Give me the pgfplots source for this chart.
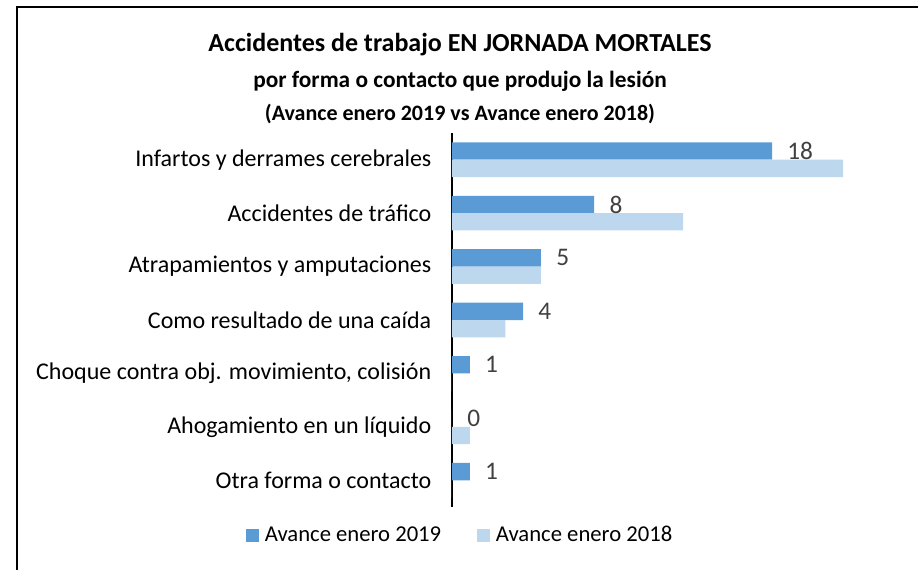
\documentclass[border=0pt]{standalone}
\usepackage{pgfplots}
\pgfplotsset{compat=1.18}
\usepackage{fontspec}
\setmainfont{Carlito}
\definecolor{c19}{HTML}{5B9BD5}
\definecolor{c18}{HTML}{BDD7EE}
\definecolor{lab}{HTML}{404040}
\begin{document}
\begin{tikzpicture}[x=1pt,y=1pt]
\useasboundingbox (0,0) rectangle (688.5,426.75);
\begin{scope}
\clip (0,0) rectangle (688.5,426.75);
\draw[line width=1.5pt] (12.75,-10) -- (12.75,421.5) -- (700,421.5);
\end{scope}
\node[font=\bfseries\fontsize{19.5}{22}\selectfont] at (345,393) {Accidentes de trabajo EN JORNADA MORTALES};
\node[font=\bfseries\fontsize{17.5}{20}\selectfont] at (345,365.5) {por forma o contacto que produjo la lesión};
\node[font=\bfseries\fontsize{16.5}{20}\selectfont] at (345,341.5) {(Avance enero 2019 vs Avance enero 2018)};
\begin{axis}[
  at={(339pt,46.5pt)}, anchor=south west,
  scale only axis, width=320pt, height=280.5pt,
  xmin=0, xmax=24, ymin=-0.5, ymax=6.5,
  y dir=reverse,
  xbar, bar width=13pt,
  axis x line=none, axis y line*=left,
  y axis line style={-, line width=1.5pt, black},
  ytick={0,1,2,3,4,5,6},
  yticklabels={Infartos y derrames cerebrales, Accidentes de tráfico, Atrapamientos y amputaciones, Como resultado de una caída, {Choque contra obj. movimiento, colisión}, Ahogamiento en un líquido, Otra forma o contacto},
  major tick length=0pt,
  yticklabel style={font=\fontsize{18}{21}\selectfont, text=black, xshift=-12pt},
  clip=false,
  /pgf/number format/assume math mode=true,
  legend columns=2,
  legend style={draw=none, at={(0.02,-0.075)}, anchor=center, font=\fontsize{17}{20}\selectfont,
    /tikz/every even column/.append style={column sep=25pt},
    /tikz/every node/.append style={inner xsep=2pt}},
  legend image code/.code={\fill[#1] (0pt,-4.9pt) rectangle (9.75pt,4.9pt); \path (12pt,0pt);},
]
\addplot[fill=c19, draw=none, bar shift=6.5pt, point meta=x,
  nodes near coords, nodes near coords style={anchor=west, xshift=8pt, text=lab, font=\fontsize{19}{22}\selectfont}]
  coordinates {(18,0) (8,1) (5,2) (4,3) (1,4) (0,5) (1,6)};
\addplot[fill=c18, draw=none, bar shift=-6.5pt]
  coordinates {(22,0) (13,1) (5,2) (3,3) (0,4) (1,5) (0,6)};
\legend{Avance enero 2019, Avance enero 2018}
\end{axis}
\end{tikzpicture}
\end{document}
